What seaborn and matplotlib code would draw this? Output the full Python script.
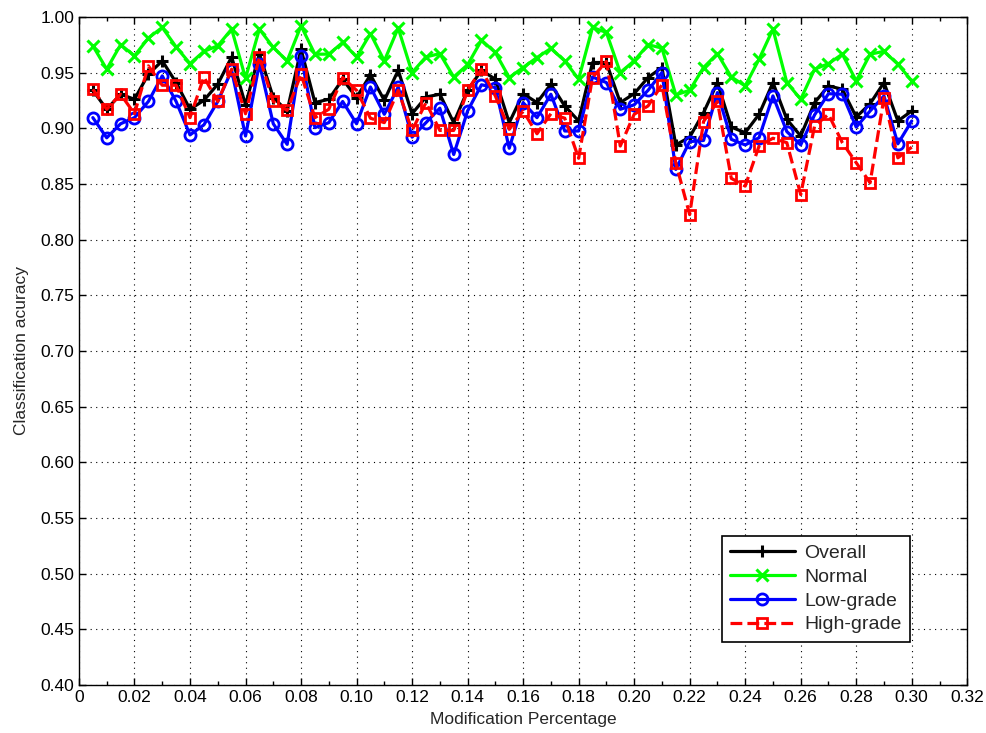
import numpy as np
import pandas as pd
import matplotlib
matplotlib.use("Agg")
import matplotlib.pyplot as plt
from matplotlib.ticker import MultipleLocator, FuncFormatter
import seaborn as sns

# Modification percentage (0.5% steps up to 30%)
modification = [round(0.005 * k, 3) for k in range(1, 61)]

overall = [0.934, 0.917, 0.9305, 0.926, 0.9485, 0.9605, 0.941, 0.917, 0.925, 0.9395,
           0.964, 0.921, 0.967, 0.9275, 0.9155, 0.971, 0.923, 0.926, 0.944, 0.9275,
           0.948, 0.925, 0.952, 0.913, 0.928, 0.9305, 0.905, 0.934, 0.952, 0.944,
           0.905, 0.931, 0.923, 0.9395, 0.920, 0.9065, 0.959, 0.959, 0.923, 0.931,
           0.9455, 0.9545, 0.885, 0.892, 0.914, 0.941, 0.901, 0.896, 0.9125, 0.941,
           0.908, 0.893, 0.923, 0.938, 0.935, 0.910, 0.922, 0.941, 0.9065, 0.9155]

normal = [0.974, 0.953, 0.975, 0.965, 0.981, 0.9905, 0.973, 0.958, 0.969, 0.974,
          0.989, 0.945, 0.989, 0.9725, 0.9605, 0.992, 0.9665, 0.9665, 0.977, 0.964,
          0.985, 0.9605, 0.990, 0.950, 0.964, 0.967, 0.946, 0.957, 0.979, 0.968,
          0.9455, 0.9545, 0.9635, 0.9716, 0.9605, 0.944, 0.9905, 0.986, 0.950, 0.9605,
          0.975, 0.972, 0.930, 0.934, 0.9545, 0.967, 0.946, 0.938, 0.962, 0.989,
          0.941, 0.926, 0.953, 0.958, 0.9665, 0.9425, 0.9665, 0.969, 0.9575, 0.9425]

low_grade = [0.9095, 0.8914, 0.904, 0.9095, 0.924, 0.947, 0.924, 0.894, 0.903, 0.924,
             0.952, 0.893, 0.958, 0.904, 0.8855, 0.965, 0.9005, 0.905, 0.924, 0.904,
             0.937, 0.9125, 0.937, 0.892, 0.905, 0.918, 0.8764, 0.9155, 0.939, 0.9365,
             0.882, 0.923, 0.9095, 0.9305, 0.8975, 0.8975, 0.946, 0.941, 0.917, 0.921,
             0.934, 0.950, 0.863, 0.888, 0.889, 0.932, 0.890, 0.885, 0.8915, 0.929,
             0.897, 0.885, 0.912, 0.931, 0.9305, 0.901, 0.9155, 0.929, 0.886, 0.9065]

high_grade = [0.935, 0.917, 0.9305, 0.913, 0.956, 0.9386, 0.9386, 0.9095, 0.946, 0.924,
              0.953, 0.913, 0.964, 0.924, 0.916, 0.9485, 0.9095, 0.917, 0.9455, 0.934,
              0.909, 0.905, 0.934, 0.898, 0.923, 0.898, 0.898, 0.934, 0.953, 0.929,
              0.899, 0.9155, 0.895, 0.913, 0.909, 0.873, 0.9455, 0.960, 0.884, 0.9125,
              0.920, 0.939, 0.869, 0.8224, 0.906, 0.924, 0.855, 0.848, 0.884, 0.891,
              0.887, 0.8404, 0.902, 0.9125, 0.887, 0.869, 0.851, 0.9275, 0.8734, 0.883]

series_names = ["Overall", "Normal", "Low-grade", "High-grade"]
series_values = [overall, normal, low_grade, high_grade]

sns.set_theme(style="ticks")
plt.rcParams["font.family"] = ["Liberation Sans", "DejaVu Sans"]

fig = plt.figure(figsize=(9.87, 7.33), dpi=100)
ax = fig.add_axes([0.080, 0.0655, 0.900, 0.9115])

line_styles = {
    "Overall":    dict(color="black", marker="+", ls="-", ms=9, mew=2.2, mfc="black"),
    "Normal":     dict(color="#00ff00", marker="x", ls="-", ms=8, mew=2.2, mfc="#00ff00"),
    "Low-grade":  dict(color="blue", marker="o", ls="-", ms=8, mew=2.0, mfc="none"),
    "High-grade": dict(color="red", marker="s", ls="--", ms=6.8, mew=2.0, mfc="none"),
}

for name, vals in zip(series_names, series_values):
    df = pd.DataFrame({"x": modification, "y": vals})
    st = line_styles[name]
    sns.lineplot(data=df, x="x", y="y", ax=ax, label=name, color=st["color"],
                 marker=st["marker"], linestyle=st["ls"], linewidth=2.3,
                 markersize=st["ms"], markeredgewidth=st["mew"],
                 markerfacecolor=st["mfc"], markeredgecolor=st["color"],
                 dashes=False if st["ls"] == "-" else (3, 2.2))

ax.set_xlim(0, 0.32)
ax.set_ylim(0.40, 1.00)
ax.xaxis.set_major_locator(MultipleLocator(0.02))
ax.xaxis.set_minor_locator(MultipleLocator(0.01))
ax.yaxis.set_major_locator(MultipleLocator(0.05))
ax.xaxis.set_major_formatter(FuncFormatter(lambda v, p: "0" if abs(v) < 1e-9 else f"{v:.2f}"))
ax.yaxis.set_major_formatter(FuncFormatter(lambda v, p: f"{v:.2f}"))

ax.tick_params(which="both", direction="in", top=True, right=True, labelsize=12.5,
               colors="black", width=1.0)
ax.tick_params(which="major", length=5)
ax.tick_params(which="minor", length=3)
ax.grid(True, which="major", linestyle=(0, (1, 4)), color="black", linewidth=0.8)
for sp in ax.spines.values():
    sp.set_color("black")
    sp.set_linewidth(1.0)

ax.set_xlabel("Modification Percentage", fontsize=12.5, labelpad=5)
ax.set_ylabel("Classification acuracy", fontsize=12.5, labelpad=8)

leg = ax.legend(loc="lower right", bbox_to_anchor=(0.936, 0.064), borderaxespad=0,
                fontsize=14, frameon=True, fancybox=False, framealpha=1,
                edgecolor="black", borderpad=0.45, handlelength=3.3,
                labelspacing=0.32, handletextpad=0.5)
leg.get_frame().set_linewidth(1.2)

fig.savefig("out.png", dpi=100, facecolor="white")
